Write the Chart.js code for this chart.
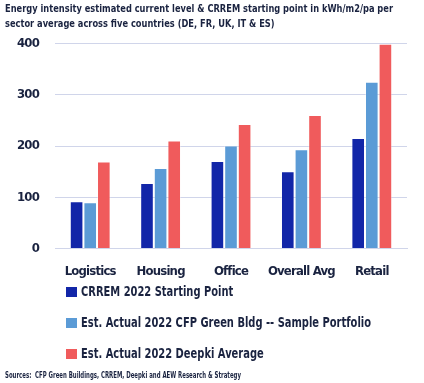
<!DOCTYPE html>
<html>
<head>
<meta charset="utf-8">
<script src="https://cdn.jsdelivr.net/npm/chart.js@4"></script>
<style>
  html, body { margin:0; padding:0; background:#fff; }
  body { width:424px; height:383px; position:relative; overflow:hidden;
         font-family:"DejaVu Sans Condensed","DejaVu Sans",sans-serif; font-stretch:condensed; color:#1a2340; }
  .fit { transform-origin:0 0; white-space:nowrap; }
  #title { position:absolute; left:5px; top:1px; font-size:10.5px; font-weight:bold; line-height:14.5px; color:#1a2340; }
  #wrap { position:absolute; left:0; top:20px; width:424px; height:274px; }
  #legend { position:absolute; left:66px; top:282px; }
  .item { position:absolute; left:0; white-space:nowrap; font-size:14px; font-weight:bold; line-height:18px; }
  .box { position:absolute; left:0; top:5px; width:11px; height:10px; }
  .txt { position:absolute; left:15px; top:0; }
  #src { position:absolute; left:5px; top:370px; font-size:8.5px; font-weight:bold; color:#1a2340; }
</style>
</head>
<body>
<div id="wrap"><canvas id="c"></canvas></div>
<div id="title" class="fit"><span id="t1">Energy intensity estimated current level &amp; CRREM starting point in kWh/m2/pa per</span><br><span>sector average across five countries (DE, FR, UK, IT &amp; ES)</span></div>
<div id="legend"></div>
<div id="src" class="fit">Sources:&nbsp; CFP Green Buildings, CRREM, Deepki and AEW Research &amp; Strategy</div>
<script>
const categories = ["Logistics", "Housing", "Office", "Overall Avg", "Retail"];
const seriesNames = ["CRREM 2022 Starting Point", "Est. Actual 2022 CFP Green Bldg -- Sample Portfolio", "Est. Actual 2022 Deepki Average"];
const crrem = [92, 128, 171, 151, 216];
const cfpGreen = [90, 157, 201, 194, 326];
const deepki = [170, 211, 243, 261, 400];
const yTicks = [0, 100, 200, 300, 400];
const colors = ["#1226a8", "#5b9bd6", "#f05b5c"];

const seriesValues = [crrem, cfpGreen, deepki];
const legend = document.getElementById('legend');
const txts = [];
seriesNames.forEach((n, i) => {
  const d = document.createElement('div');
  d.className = 'item';
  d.style.top = (i * 31) + 'px';
  const b = document.createElement('span'); b.className = 'box'; b.style.background = colors[i];
  const t = document.createElement('span'); t.className = 'txt fit'; t.textContent = n;
  d.appendChild(b); d.appendChild(t);
  legend.appendChild(d);
  txts.push(t);
});

// horizontal squeeze of html text to the reference widths
const t1 = document.getElementById('t1');
const sT = 388 / t1.getBoundingClientRect().width;
document.getElementById('title').style.transform = 'scaleX(' + sT + ')';
const sL = 290 / txts[1].getBoundingClientRect().width;
txts.forEach(t => t.style.transform = 'scaleX(' + sL + ')');
const src = document.getElementById('src');
src.style.transform = 'scaleX(' + (236 / src.getBoundingClientRect().width) + ')';

const narrow = {
  id: 'narrow',
  beforeUpdate(chart) { chart.ctx.letterSpacing = '-0.8px'; },
  beforeLayout(chart) { chart.ctx.letterSpacing = '-0.8px'; },
  beforeDraw(chart) { chart.ctx.letterSpacing = '-0.8px'; }
};

const fontFam = '"DejaVu Sans Condensed","DejaVu Sans",sans-serif';
new Chart(document.getElementById('c'), {
  type: 'bar',
  data: {
    labels: categories,
    datasets: seriesValues.map((v, i) => ({
      label: seriesNames[i],
      data: v,
      backgroundColor: colors[i],
      borderColor: 'rgba(255,255,255,0.35)',
      borderWidth: 1,
      barPercentage: 1,
      categoryPercentage: 0.58
    }))
  },
  plugins: [narrow],
  options: {
    responsive: true,
    maintainAspectRatio: false,
    animation: false,
    layout: { padding: { top: 6, right: 17, left: 1, bottom: 0 } },
    plugins: { legend: { display: false }, tooltip: { enabled: false } },
    scales: {
      x: {
        grid: { display: false, drawTicks: false },
        border: { display: true, color: '#d0d5ea', width: 1 },
        ticks: { color: '#1a2340', maxRotation: 0, autoSkip: false, font: { family: fontFam, size: 13, weight: 'bold condensed' }, padding: 15 }
      },
      y: {
        min: 0, max: 400,
        afterBuildTicks: (axis) => { axis.ticks = yTicks.map(v => ({ value: v })); },
        grid: { color: '#d0d5ea', drawTicks: false, lineWidth: 1 },
        border: { display: false },
        ticks: { color: '#1a2340', font: { family: fontFam, size: 13, weight: 'bold condensed' }, padding: 16 }
      }
    }
  }
});
</script>
</body>
</html>
